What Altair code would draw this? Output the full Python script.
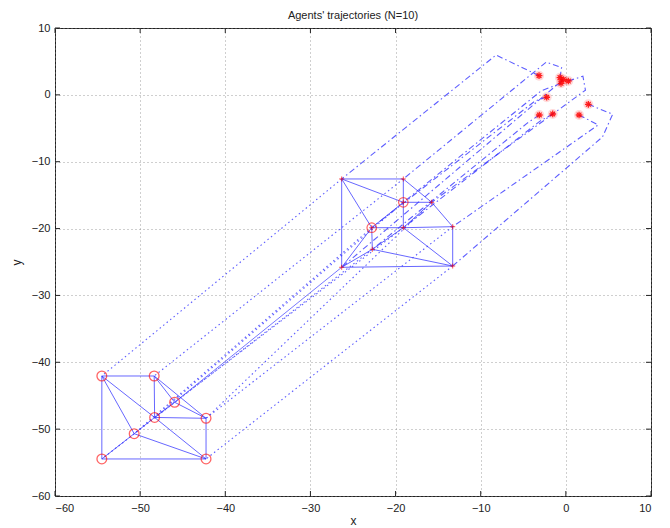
import altair as alt
import pandas as pd

# ---------------- data ----------------
# start positions of the 10 agents (red asterisks)
start_x = [-3.15, -0.69, -0.57, 0.29, -2.25, -1.54, 1.55, -3.12, -0.30, 2.64]
start_y = [2.87, 2.57, 1.73, 2.07, -0.36, -2.86, -3.01, -3.01, 2.30, -1.41]

# intermediate bends of the first (dash-dot) leg, in order per agent
via_agent = [1, 2, 2, 3, 4, 4, 5, 6, 7, 8, 9, 10, 10]
via_x = [-8.2, -0.5, -2.3, -2.9, 2.0, 2.3, -3.6, -3.0, 3.8, -4.5, -1.5, 5.5, 4.3]
via_y = [5.96, 4.1, 4.9, 0.6, 2.8, 0.7, -0.9, -3.9, -4.5, -4.2, 1.0, -2.9, -6.3]

# intermediate formation
mid_x = [-26.33, -19.09, -19.09, -15.76, -22.80, -19.09, -13.29, -22.73, -26.33, -13.29]
mid_y = [-12.58, -12.58, -16.07, -16.07, -19.87, -19.87, -19.72, -23.10, -25.79, -25.60]
mid_circles = [2, 4]

# final formation (distinct positions) and agent -> final position
fin_x = [-54.5, -48.35, -45.95, -42.26, -48.3, -50.7, -54.5, -42.26]
fin_y = [-42.05, -42.05, -45.98, -48.38, -48.25, -50.68, -54.46, -54.46]
final_idx = [0, 1, 4, 3, 5, 4, 3, 6, 2, 7]
solid_agent = 9

mid_edges = [(0, 1), (0, 8), (8, 9), (1, 2), (2, 3), (1, 3), (3, 6), (6, 9),
             (0, 2), (0, 4), (4, 5), (5, 6), (4, 2), (4, 7), (4, 8), (7, 8),
             (7, 9), (5, 9), (2, 5), (5, 3), (7, 5)]
fin_edges = [(0, 1), (0, 6), (6, 7), (3, 7), (1, 4), (1, 2), (1, 3), (2, 3),
             (2, 4), (4, 3), (0, 4), (0, 5), (4, 5), (5, 6), (5, 7), (4, 7)]

tick_values = [-60, -50, -40, -30, -20, -10, 0, 10]

# ---------------- tables ----------------
leg1 = []
for a in range(1, 11):
    i = a - 1
    pts = [(start_x[i], start_y[i])]
    pts += [(vx, vy) for va, vx, vy in zip(via_agent, via_x, via_y) if va == a]
    pts.append((mid_x[i], mid_y[i]))
    for k, (px, py) in enumerate(pts):
        leg1.append({"agent": a, "o": k, "x": px, "y": py})
leg1 = pd.DataFrame(leg1)

leg2 = []
for a in range(1, 11):
    i = a - 1
    leg2.append({"agent": a, "o": 0, "x": mid_x[i], "y": mid_y[i]})
    leg2.append({"agent": a, "o": 1, "x": fin_x[final_idx[i]], "y": fin_y[final_idx[i]]})
leg2 = pd.DataFrame(leg2)
leg2_dot = leg2[leg2.agent != solid_agent]
leg2_solid = leg2[leg2.agent == solid_agent]

edges = []
for e, (p, q) in enumerate(mid_edges):
    edges.append({"e": "m%d" % e, "o": 0, "x": mid_x[p], "y": mid_y[p]})
    edges.append({"e": "m%d" % e, "o": 1, "x": mid_x[q], "y": mid_y[q]})
for e, (p, q) in enumerate(fin_edges):
    edges.append({"e": "f%d" % e, "o": 0, "x": fin_x[p], "y": fin_y[p]})
    edges.append({"e": "f%d" % e, "o": 1, "x": fin_x[q], "y": fin_y[q]})
edges = pd.DataFrame(edges)

starts = pd.DataFrame({"x": start_x, "y": start_y})
mids = pd.DataFrame({"x": mid_x, "y": mid_y})
midc = pd.DataFrame({"x": [mid_x[i] for i in mid_circles], "y": [mid_y[i] for i in mid_circles]})
fins = pd.DataFrame({"x": fin_x, "y": fin_y})
xticks = pd.DataFrame({"x": tick_values})
yticks = pd.DataFrame({"y": tick_values})

# ---------------- chart ----------------
W, H = 596, 468
xs = alt.Scale(domain=[-60, 10], nice=False, zero=False)
ys = alt.Scale(domain=[-60, 10], nice=False, zero=False)
xaxis = alt.Axis(values=tick_values, title="x", labelPadding=6, titlePadding=2)
yaxis = alt.Axis(values=tick_values, title="y", labelPadding=5, titlePadding=8)

X = alt.X("x:Q", scale=xs, axis=xaxis)
Y = alt.Y("y:Q", scale=ys, axis=yaxis)
BLUE = "#3434ff"

tri = alt.Chart(edges).mark_line(color=BLUE, strokeWidth=1, opacity=0.75).encode(
    x=X, y=Y, detail="e:N", order="o:Q")
l1 = alt.Chart(leg1).mark_line(color=BLUE, strokeWidth=1.1, opacity=0.8,
                               strokeDash=[6, 3, 1.5, 3]).encode(
    x=X, y=Y, detail="agent:N", order="o:Q")
l2 = alt.Chart(leg2_dot).mark_line(color=BLUE, strokeWidth=1.1, opacity=0.8,
                                   strokeDash=[1.5, 3]).encode(
    x=X, y=Y, detail="agent:N", order="o:Q")
l2s = alt.Chart(leg2_solid).mark_line(color=BLUE, strokeWidth=0.9, opacity=0.75).encode(
    x=X, y=Y, detail="agent:N", order="o:Q")

ast = "M-1,0L1,0M0,-1L0,1M-0.7,-0.7L0.7,0.7M-0.7,0.7L0.7,-0.7"
plus = "M-1,0L1,0M0,-1L0,1"
halo = alt.Chart(starts).mark_circle(color="red", opacity=0.15, size=100).encode(x=X, y=Y)
star = alt.Chart(starts).mark_point(shape=ast, stroke="red", strokeWidth=1.3, size=45,
                                    filled=False, opacity=0.85).encode(x=X, y=Y)
midp = alt.Chart(mids).mark_point(shape=plus, stroke="red", strokeWidth=1, size=25,
                                  filled=False, opacity=0.7).encode(x=X, y=Y)
midcirc = alt.Chart(midc).mark_point(shape="circle", stroke="red", strokeWidth=1.2, size=90,
                                     filled=False, opacity=0.6).encode(x=X, y=Y)
fincirc = alt.Chart(fins).mark_point(shape="circle", stroke="red", strokeWidth=1.3, size=95,
                                     filled=False, opacity=0.6).encode(x=X, y=Y)

TICK = "#222222"
tb = alt.Chart(xticks).mark_rule(color=TICK, strokeWidth=1).encode(
    x=X, y=alt.value(H), y2=alt.value(H - 5))
tt = alt.Chart(xticks).mark_rule(color=TICK, strokeWidth=1).encode(
    x=X, y=alt.value(0), y2=alt.value(5))
tl = alt.Chart(yticks).mark_rule(color=TICK, strokeWidth=1).encode(
    y=Y, x=alt.value(0), x2=alt.value(5))
tr = alt.Chart(yticks).mark_rule(color=TICK, strokeWidth=1).encode(
    y=Y, x=alt.value(W), x2=alt.value(W - 5))

chart = alt.layer(
    tri, l1, l2, l2s, halo, star, midp, midcirc, fincirc, tb, tt, tl, tr
).properties(
    width=W, height=H,
    autosize=alt.AutoSizeParams(type="none"),
    padding={"left": 47, "top": 20, "right": 11, "bottom": 34},
    title=alt.TitleParams("Agents' trajectories (N=10)", fontSize=11, fontWeight="normal",
                          font="Liberation Sans", color="#222222", offset=1),
).configure_view(
    stroke="#222222", strokeWidth=1
).configure_axis(
    grid=True, gridDash=[1, 3], gridColor="#888888", gridOpacity=0.8,
    domain=False, ticks=False,
    labelFont="Liberation Sans", labelFontSize=11, labelColor="#222222",
    titleFont="Liberation Sans", titleFontSize=12, titleFontWeight="normal",
    titleColor="#222222",
)

chart.save("out.html", embed_options={"renderer": "svg", "actions": False})
